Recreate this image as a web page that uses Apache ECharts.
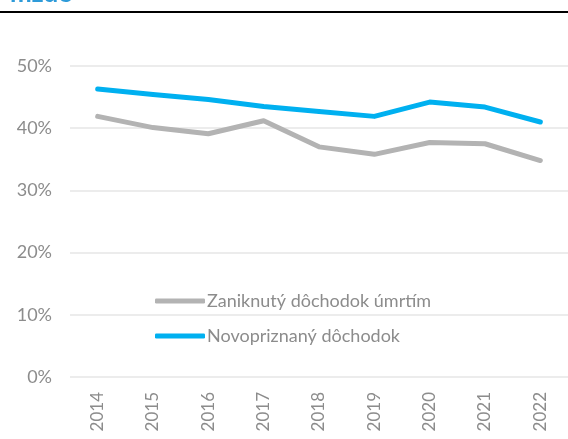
<!DOCTYPE html>
<html>
<head>
<meta charset="utf-8">
<script src="https://cdn.jsdelivr.net/npm/echarts@6/dist/echarts.min.js"></script>
<style>
  html, body { margin: 0; padding: 0; background: #fff; }
  #chart { width: 568px; height: 439px; }
</style>
</head>
<body>
<div id="chart"></div>
<script>
var years = ["2014", "2015", "2016", "2017", "2018", "2019", "2020", "2021", "2022"];
var zaniknuty = [41.9, 40.1, 39.1, 41.2, 37.0, 35.8, 37.7, 37.5, 34.8];
var novopriznany = [46.3, 45.4, 44.6, 43.5, 42.7, 41.9, 44.2, 43.4, 41.0];
var seriesNames = ["Zaniknutý dôchodok úmrtím", "Novopriznaný dôchodok"];

var chart = echarts.init(document.getElementById("chart"));
var font = "Lato, 'Open Sans', sans-serif";

chart.setOption({
  animation: false,
  textStyle: { fontFamily: font },
  graphic: [
    {
      // orezaný nadpis hore
      type: "text",
      left: 10,
      top: -19,
      style: { text: "mzde", fill: "#2E9BD9", font: "bold 26px " + font }
    },
    {
      type: "rect",
      shape: { x: 0, y: 11, width: 568, height: 2 },
      style: { fill: "#000" }
    }
  ],
  legend: {
    orient: "vertical",
    left: 150,
    top: 285,
    itemWidth: 50,
    itemHeight: 5,
    itemGap: 13,
    icon: "roundRect",
    textStyle: { color: "#8c8c8c", fontSize: 18, padding: [0, 0, 0, -3], lineHeight: 22 },
    data: seriesNames
  },
  grid: { left: 70, right: 0, top: 66, bottom: 62, containLabel: false },
  xAxis: {
    type: "category",
    data: years,
    boundaryGap: true,
    axisLine: { show: false },
    axisTick: { show: false },
    axisLabel: { rotate: 90, color: "#8c8c8c", fontSize: 17, margin: 15 }
  },
  yAxis: {
    type: "value",
    min: 0,
    max: 50,
    interval: 10,
    axisLine: { show: false },
    axisTick: { show: false },
    axisLabel: { formatter: "{value}%", color: "#8c8c8c", fontSize: 18, margin: 18 },
    splitLine: { lineStyle: { color: "#e6e6e6", width: 1.5 } }
  },
  series: [
    {
      name: seriesNames[0],
      type: "line",
      symbol: "none",
      data: zaniknuty,
      lineStyle: { color: "#b3b3b3", width: 5, cap: "round", join: "round" },
      itemStyle: { color: "#b3b3b3" }
    },
    {
      name: seriesNames[1],
      type: "line",
      symbol: "none",
      data: novopriznany,
      lineStyle: { color: "#00b0f0", width: 5, cap: "round", join: "round" },
      itemStyle: { color: "#00b0f0" }
    }
  ]
});
</script>
</body>
</html>
